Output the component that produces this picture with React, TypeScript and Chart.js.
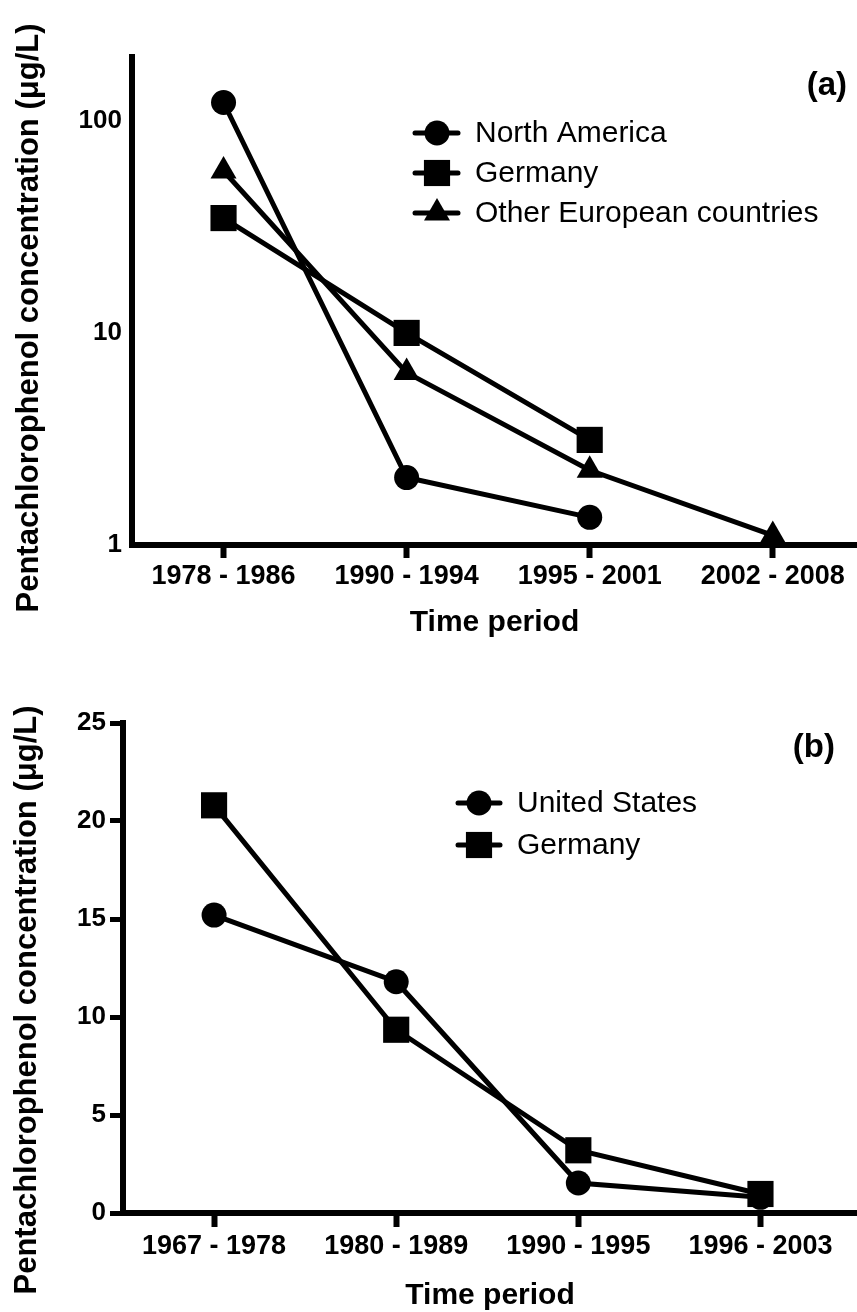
import React, { useEffect, useRef } from 'react';
import { Chart, registerables } from 'chart.js';
import { drawPoint } from 'chart.js/helpers';

Chart.register(...registerables);

const FONT = '"Liberation Sans", Arial, Helvetica, sans-serif';

// ---------- Panel (a) data ----------
const periodsA = ['1978 - 1986', '1990 - 1994', '1995 - 2001', '2002 - 2008'];
const northAmerica = [122, 2.08, 1.35, null];
const germanyA = [34.8, 10.0, 3.13, null];
const otherEurope = [58, 6.5, 2.25, 1.11];
const yTicksA = [1, 10, 100];

// ---------- Panel (b) data ----------
const periodsB = ['1967 - 1978', '1980 - 1989', '1990 - 1995', '1996 - 2003'];
const unitedStates = [15.2, 11.8, 1.53, 0.8];
const germanyB = [20.8, 9.35, 3.2, 0.97];
const yTicksB = [0, 5, 10, 15, 20, 25];

const Y_TITLE = 'Pentachlorophenol concentration (μg/L)';
const X_TITLE = 'Time period';

type Ann = {
  panel: string;
  panelX: number;
  panelY: number;
  yTitleX: number;
  yTitleY: number;
  xTitleY: number;
  legX0: number;
  legX1: number;
  legMarkX: number;
  legTextX: number;
  legRows: number[];
};

function annotatePlugin(a: Ann) {
  return {
    id: 'annot',
    afterDraw(chart: any) {
      const ctx = chart.ctx as CanvasRenderingContext2D;
      const ca = chart.chartArea;
      ctx.save();
      ctx.fillStyle = '#000';
      ctx.strokeStyle = '#000';
      ctx.textAlign = 'center';
      ctx.textBaseline = 'middle';
      // y title
      ctx.font = `bold 31px ${FONT}`;
      ctx.save();
      ctx.translate(a.yTitleX, a.yTitleY);
      ctx.rotate(-Math.PI / 2);
      ctx.fillText(Y_TITLE, 0, 0);
      ctx.restore();
      // x title
      ctx.font = `bold 30px ${FONT}`;
      ctx.fillText(X_TITLE, (ca.left + ca.right) / 2, a.xTitleY);
      // panel label
      ctx.font = `bold 33px ${FONT}`;
      ctx.textAlign = 'right';
      ctx.fillText(a.panel, a.panelX, a.panelY);
      // legend
      ctx.textAlign = 'left';
      ctx.font = `30px ${FONT}`;
      chart.data.datasets.forEach((ds: any, i: number) => {
        const y = a.legRows[i];
        ctx.lineWidth = 5;
        ctx.lineCap = 'round';
        ctx.beginPath();
        ctx.moveTo(a.legX0, y);
        ctx.lineTo(a.legX1, y);
        ctx.stroke();
        ctx.fillStyle = '#000';
        drawPoint(ctx, { pointStyle: ds.pointStyle, radius: ds.pointRadius, borderWidth: 0, rotation: 0 } as any, a.legMarkX, y);
        ctx.fillText(ds.label, a.legTextX, y + 1);
      });
      ctx.restore();
    },
  };
}

function series(label: string, values: (number | null)[], style: string, radius: number, order: number) {
  return {
    label,
    data: values.map((v, i) => ({ x: i, y: v })),
    borderColor: '#000',
    backgroundColor: '#000',
    borderWidth: 5,
    tension: 0,
    pointStyle: style,
    pointRadius: radius,
    pointHoverRadius: radius,
    pointBorderWidth: 0,
    pointBackgroundColor: '#000',
    clip: false as any,
    order,
  };
}

function makeXScale(cats: string[], axisHeight: number, max: number, tickLength: number, padding: number) {
  return {
    type: 'linear' as const,
    min: -0.5,
    max,
    afterBuildTicks: (s: any) => {
      s.ticks = cats.map((_, i) => ({ value: i }));
    },
    afterFit: (s: any) => {
      s.height = axisHeight;
      s.paddingLeft = 0;
      s.paddingRight = 0;
    },
    ticks: {
      autoSkip: false,
      maxRotation: 0,
      padding,
      color: '#000',
      font: { family: FONT, size: 27, weight: 'bold' as const },
      callback: (v: any) => cats[v] ?? '',
    },
    grid: {
      display: true,
      drawOnChartArea: false,
      drawTicks: true,
      tickLength,
      tickWidth: 6,
      tickColor: '#000',
    },
    border: { display: true, width: 6, color: '#000' },
  };
}

function PanelA() {
  const ref = useRef<HTMLCanvasElement>(null);
  useEffect(() => {
    const chart = new Chart(ref.current!, {
      type: 'line',
      data: {
        datasets: [
          series('North America', northAmerica, 'circle', 12.5, 0),
          series('Germany', germanyA, 'rect', 18.5, 1),
          series('Other European countries', otherEurope, 'triangle', 15, 2),
        ] as any,
      },
      options: {
        responsive: false,
        animation: false,
        events: [],
        layout: { autoPadding: false, padding: { top: 57, left: 0, right: 0, bottom: 0 } },
        plugins: { legend: { display: false }, tooltip: { enabled: false } },
        scales: {
          x: makeXScale(periodsA, 110, 3.46, 13, 2) as any,
          y: {
            type: 'logarithmic',
            min: 1,
            max: 200,
            afterBuildTicks: (s: any) => {
              s.ticks = yTicksA.map((v) => ({ value: v }));
            },
            afterFit: (s: any) => {
              s.width = 132;
              s.paddingTop = 0;
              s.paddingBottom = 0;
            },
            ticks: {
              padding: 10,
              color: '#000',
              font: { family: FONT, size: 26, weight: 'bold' },
              callback: (v: any) => String(v),
            },
            grid: { display: false, drawTicks: false, tickLength: 0 },
            border: { display: true, width: 6, color: '#000' },
          } as any,
        },
      } as any,
      plugins: [
        annotatePlugin({
          panel: '(a)',
          panelX: 847,
          panelY: 86,
          yTitleX: 29,
          yTitleY: 318,
          xTitleY: 623,
          legX0: 415,
          legX1: 458,
          legMarkX: 437,
          legTextX: 475,
          legRows: [133, 173, 213],
        }),
      ],
    });
    return () => chart.destroy();
  }, []);
  return <canvas ref={ref} width={857} height={655} style={{ display: 'block' }} />;
}

function PanelB() {
  const ref = useRef<HTMLCanvasElement>(null);
  useEffect(() => {
    const chart = new Chart(ref.current!, {
      type: 'line',
      data: {
        datasets: [
          series('United States', unitedStates, 'circle', 12.5, 1),
          series('Germany', germanyB, 'rect', 18.5, 0),
        ] as any,
      },
      options: {
        responsive: false,
        animation: false,
        events: [],
        layout: { autoPadding: false, padding: { top: 68, left: 0, right: 0, bottom: 0 } },
        plugins: { legend: { display: false }, tooltip: { enabled: false } },
        scales: {
          x: makeXScale(periodsB, 99, 3.53, 14, 3) as any,
          y: {
            type: 'linear',
            min: 0,
            max: 25,
            afterBuildTicks: (s: any) => {
              s.ticks = yTicksB.map((v) => ({ value: v }));
            },
            afterFit: (s: any) => {
              s.width = 123;
              s.paddingTop = 0;
              s.paddingBottom = 0;
            },
            ticks: {
              padding: 4,
              color: '#000',
              font: { family: FONT, size: 26, weight: 'bold' },
              callback: (v: any) => String(v),
            },
            grid: {
              display: true,
              drawOnChartArea: false,
              drawTicks: true,
              tickLength: 13,
              tickWidth: 5,
              tickColor: '#000',
            },
            border: { display: true, width: 6, color: '#000' },
          } as any,
        },
      } as any,
      plugins: [
        annotatePlugin({
          panel: '(b)',
          panelX: 835,
          panelY: 93,
          yTitleX: 27,
          yTitleY: 345,
          xTitleY: 641,
          legX0: 458,
          legX1: 500,
          legMarkX: 479,
          legTextX: 517,
          legRows: [148, 190],
        }),
      ],
    });
    return () => chart.destroy();
  }, []);
  return <canvas ref={ref} width={857} height={657} style={{ display: 'block' }} />;
}

export default function App() {
  return (
    <div
      style={{
        position: 'absolute',
        left: 0,
        top: 0,
        width: 857,
        height: 1312,
        overflow: 'hidden',
        background: '#fff',
      }}
    >
      <PanelA />
      <PanelB />
    </div>
  );
}
